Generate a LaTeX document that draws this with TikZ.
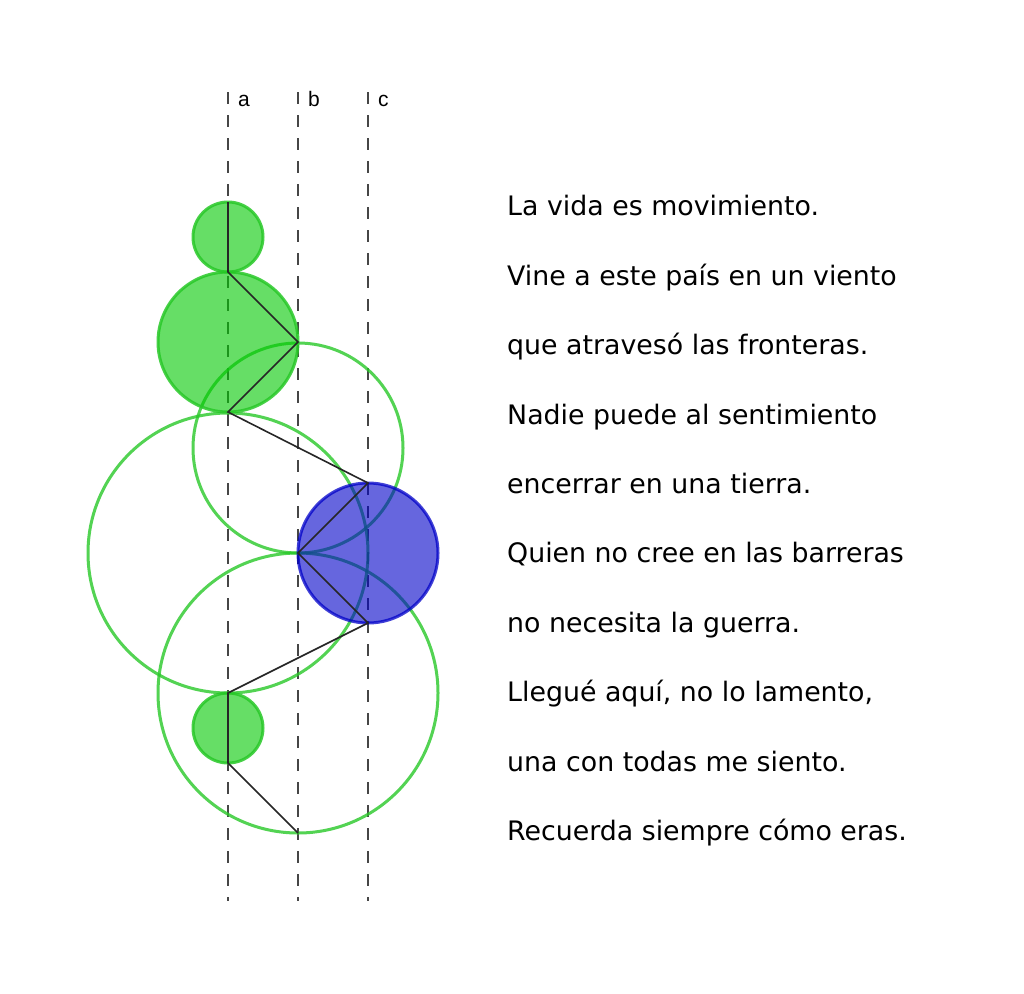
\documentclass[tikz,border=0pt]{standalone}
\usepackage{fontspec}
\setmainfont{DejaVu Sans}
\newfontfamily\labelfont{Liberation Sans}
\definecolor{guide}{RGB}{70,70,70}
\definecolor{leaf}{RGB}{0,200,0}
\definecolor{leafline}{RGB}{40,200,40}
\definecolor{sea}{RGB}{0,0,200}
\tikzset{
  guideline/.style={draw=guide, line width=1.8pt, dash pattern=on 12pt off 11pt},
  greendisc/.style={fill=leaf, fill opacity=0.6, draw=leafline, draw opacity=0.85, line width=3pt},
  bluedisc/.style={fill=sea, fill opacity=0.6, draw=sea, draw opacity=0.75, line width=3pt},
  greenring/.style={draw=leafline, draw opacity=0.8, line width=3pt},
  chord/.style={draw=black!85, line width=1.6pt},
  verse/.style={anchor=base west, inner sep=0pt, font=\fontsize{26.8}{32}\selectfont}
}
\begin{document}
\begin{tikzpicture}[x=1pt, y=-1pt]
        \useasboundingbox[fill=white] (0,0) rectangle (1024,993);
        % guide lines
        \foreach \x/\lbl in {228/a, 298/b, 368/c} {
            \draw[guideline] (\x,92) -- (\x,901);
            \node[anchor=base west, inner sep=0pt, font=\labelfont\fontsize{21}{24}\selectfont] (lbl\lbl) at (\x+10,106) {\lbl};
        }
        % points
        \coordinate (a1) at (228,202);
        \coordinate (a2) at (228,272);
        \coordinate (b1) at (298,342);
        \coordinate (a3) at (228,412);
        \coordinate (c1) at (368,483);
        \coordinate (b2) at (298,553);
        \coordinate (c2) at (368,623);
        \coordinate (a4) at (228,693);
        \coordinate (a5) at (228,763);
        \coordinate (b3) at (298,833);
        % circles
        \draw[greenring] (298,448) circle[radius=105pt];
        \draw[greenring] (228,553) circle[radius=140pt];
        \draw[greenring] (298,693) circle[radius=140pt];
        \draw[greendisc] (228,237) circle[radius=35pt];
        \draw[greendisc] (228,342) circle[radius=70pt];
        \draw[greendisc] (228,728) circle[radius=35pt];
        \draw[bluedisc] (368,553) circle[radius=70pt];
        % path
        \draw[chord] (a1) -- (a2) -- (b1) -- (a3) -- (c1) -- (b2) -- (c2) -- (a4) -- (a5) -- (b3);
        % poem
        \foreach \txt [count=\i] in {{La vida es movimiento.}, {Vine a este país en un viento},
            {que atravesó las fronteras.}, {Nadie puede al sentimiento}, {encerrar en una tierra.},
            {Quien no cree en las barreras}, {no necesita la guerra.}, {Llegué aquí, no lo lamento,},
            {una con todas me siento.}, {Recuerda siempre cómo eras.}} {
            \node[verse] (line\i) at (507,146.5+69.4*\i) {\txt};
        }
    \end{tikzpicture}
\end{document}
